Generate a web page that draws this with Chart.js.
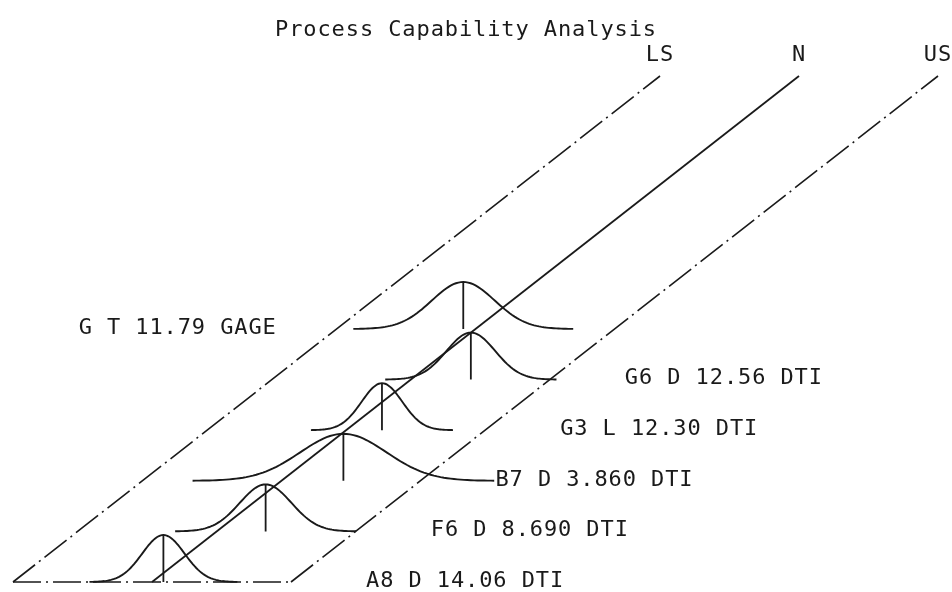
<!DOCTYPE html>
<html>
<head>
<meta charset="utf-8">
<title>Process Capability Analysis</title>
<script src="https://cdn.jsdelivr.net/npm/chart.js@4.4.1/dist/chart.umd.min.js"></script>
<style>
  html, body { margin: 0; padding: 0; background: #ffffff; }
  #wrap { width: 952px; height: 592px; }
</style>
</head>
<body>
<div id="wrap"><canvas id="chart" width="952" height="592"></canvas></div>
<script>
// Parts, front (depth slot 0) to back
const parts        = ['A8', 'F6', 'B7', 'G3', 'G6', 'G'];
const featureCodes = ['D', 'D', 'D', 'L', 'D', 'T'];
const nominals     = ['14.06', '8.690', '3.860', '12.30', '12.56', '11.79'];
const gaugeTypes   = ['DTI', 'DTI', 'DTI', 'DTI', 'DTI', 'GAGE'];
// Process mean and standard deviation, in % of half tolerance (LS = -50, N = 0, US = +50)
const means        = [4.1, 17.6, 22.3, 12.9, 21.6, -4.4];
const sigmas       = [7.6, 9.3, 15.5, 7.3, 8.8, 11.3];
const depthSlots   = [0, 1, 2, 3, 4, 5];
const labelSides   = ['right', 'right', 'right', 'right', 'right', 'left'];
// Specification lines
const limitNames   = ['LS', 'N', 'US'];
const limitValues  = [-50, 0, 50];
const totalSlots   = 10;

// Oblique projection of (position, depth, height) onto the flat chart plane
const PX_PER_UNIT = 2.78;
const DEPTH_DX = 64.7 / PX_PER_UNIT;   // horizontal shift per depth slot
const DEPTH_DY = 50.6 / PX_PER_UNIT;   // vertical rise per depth slot
const PEAK_H   = 47 / PX_PER_UNIT;     // height of each normal curve
const SPAN     = 3.5;                  // curves drawn to +/- SPAN sigma
const INK      = '#1a1a1a';
const FAMILY   = '"DejaVu Sans Mono", "Liberation Mono", monospace';
const FONT     = '22px ' + FAMILY;
const LETTER   = '0.9px';

function project(pos, slot, h) {
  return { x: pos + slot * DEPTH_DX, y: slot * DEPTH_DY + (h || 0) };
}

const datasets = [];

// Base edge between the limits at the front
datasets.push({
  data: [project(limitValues[0], 0), project(limitValues[2], 0)],
  borderColor: INK, borderWidth: 1.6, borderDash: [28, 5, 2, 5]
});

// Limit and nominal lines running back in depth
limitNames.forEach((name, i) => {
  datasets.push({
    data: [project(limitValues[i], 0), project(limitValues[i], totalSlots)],
    borderColor: INK,
    borderWidth: name === 'N' ? 1.8 : 1.6,
    borderDash: name === 'N' ? [] : [28, 5, 2, 5]
  });
});

// One normal curve per part, plus a drop line at its mean
parts.forEach((p, i) => {
  const pts = [];
  const n = 90;
  for (let k = 0; k <= n; k++) {
    const t = -SPAN + (2 * SPAN * k) / n;
    pts.push(project(means[i] + t * sigmas[i], depthSlots[i], PEAK_H * Math.exp(-0.5 * t * t)));
  }
  datasets.push({ data: pts, borderColor: INK, borderWidth: 1.9 });
  datasets.push({
    data: [project(means[i], depthSlots[i], PEAK_H), project(means[i], depthSlots[i], 0)],
    borderColor: INK, borderWidth: 1.8
  });
});

datasets.forEach(d => {
  d.showLine = true;
  d.pointRadius = 0;
  d.pointHoverRadius = 0;
  d.fill = false;
  d.tension = 0;
  d.clip = false;
});

// Text spacing for the title and the annotations
const spacing = {
  id: 'spacing',
  beforeDraw(chart) { chart.ctx.letterSpacing = LETTER; },
  afterDraw(chart) { chart.ctx.letterSpacing = '0px'; }
};

// Limit names and part labels placed in projected coordinates
const annotate = {
  id: 'annotate',
  afterDatasetsDraw(chart) {
    const { ctx } = chart;
    const xs = chart.scales.x, ys = chart.scales.y;
    ctx.save();
    ctx.fillStyle = INK;
    ctx.font = FONT;
    ctx.letterSpacing = LETTER;
    ctx.textBaseline = 'middle';
    ctx.textAlign = 'center';
    limitNames.forEach((name, i) => {
      const pt = project(limitValues[i], totalSlots, 7.6);
      ctx.fillText(name, xs.getPixelForValue(pt.x), ys.getPixelForValue(pt.y));
    });
    parts.forEach((p, i) => {
      const text = [p, featureCodes[i], nominals[i], gaugeTypes[i]].join(' ');
      let pt;
      if (labelSides[i] === 'right') {
        pt = project(limitValues[2] + 27, depthSlots[i], 0);
        ctx.textAlign = 'left';
      } else {
        pt = project(limitValues[0] - 21.5, depthSlots[i], 0);
        ctx.textAlign = 'right';
      }
      ctx.fillText(text, xs.getPixelForValue(pt.x), ys.getPixelForValue(pt.y) - 1);
    });
    ctx.restore();
  }
};

const X_MIN = -152 / PX_PER_UNIT;
const Y_MIN = -10 / PX_PER_UNIT;

new Chart(document.getElementById('chart'), {
  type: 'scatter',
  data: { datasets },
  options: {
    responsive: false,
    animation: false,
    events: [],
    layout: { padding: { right: 20 } },
    plugins: {
      legend: { display: false },
      tooltip: { enabled: false },
      title: {
        display: true,
        text: 'Process Capability Analysis',
        color: INK,
        font: { family: FAMILY, size: 22, weight: 'normal', lineHeight: 1.1 },
        padding: { top: 18, bottom: 0 }
      }
    },
    scales: {
      x: { type: 'linear', display: false, min: X_MIN, max: X_MIN + 932 / PX_PER_UNIT },
      y: { type: 'linear', display: false, min: Y_MIN, max: Y_MIN + (592 - 18 - 24.2) / PX_PER_UNIT }
    }
  },
  plugins: [spacing, annotate]
});
</script>
</body>
</html>
